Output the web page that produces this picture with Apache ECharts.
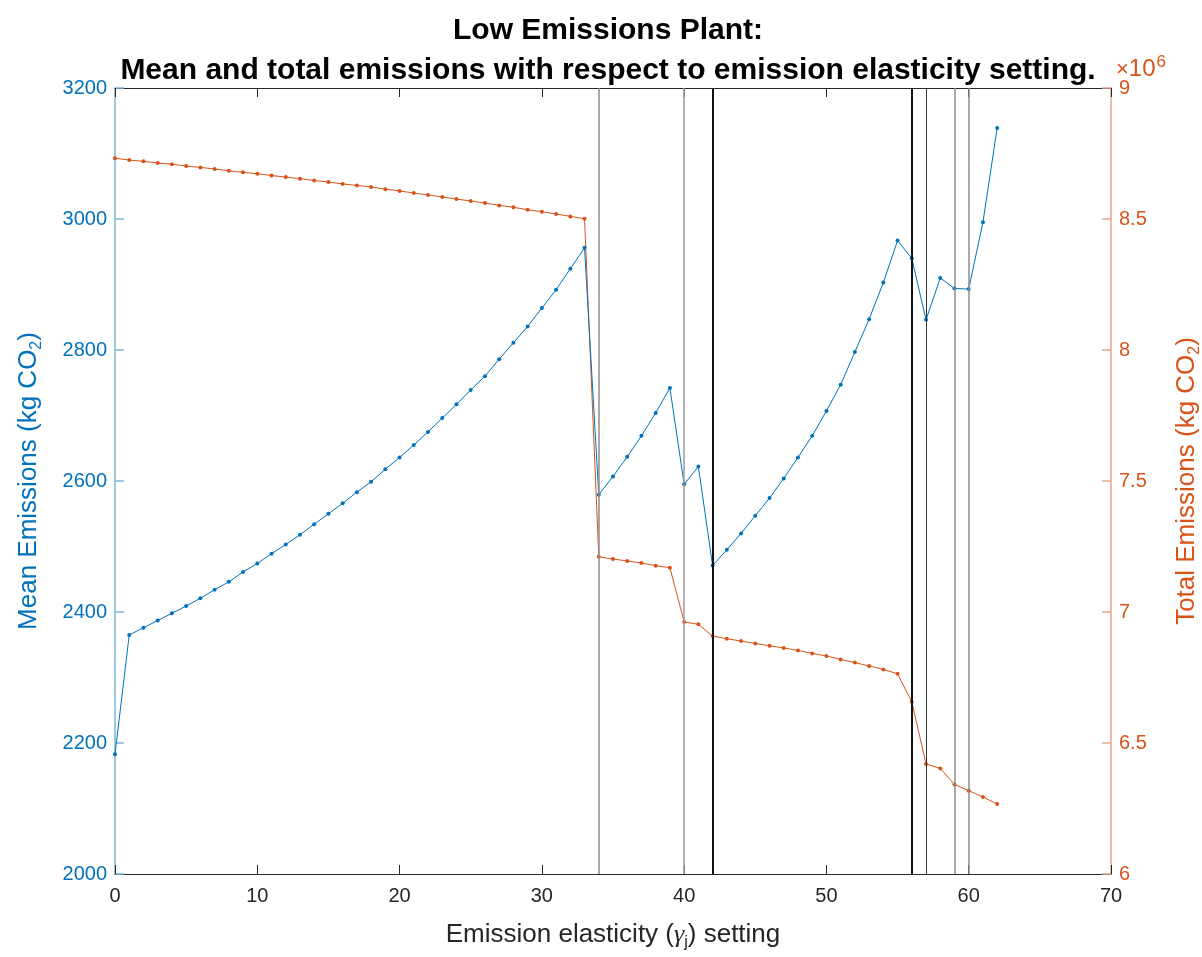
<!DOCTYPE html>
<html>
<head>
<meta charset="utf-8">
<script src="https://cdn.jsdelivr.net/npm/echarts@6/dist/echarts.min.js"></script>
<style>
  html, body { margin: 0; padding: 0; background: #fff; }
  #chart { width: 1202px; height: 957px; }
</style>
</head>
<body>
<div id="chart"></div>
<script>
// emission elasticity settings (x)
const gammaSettings = [
  0, 1, 2, 3, 4, 5, 6, 7, 8, 9, 10, 11, 12, 13, 14, 15, 16, 17, 18, 19, 20,
  21, 22, 23, 24, 25, 26, 27, 28, 29, 30, 31, 32, 33, 34, 35, 36, 37, 38, 39, 40,
  41, 42, 43, 44, 45, 46, 47, 48, 49, 50, 51, 52, 53, 54, 55, 56, 57, 58, 59, 60,
  61, 62
];

// mean emissions (kg CO2), left axis
const meanEmissions = [
  2183, 2365, 2376, 2387, 2398, 2409, 2421, 2434, 2446, 2461, 2474,
  2489, 2503, 2518, 2534, 2550, 2566, 2583, 2599, 2618, 2636,
  2655, 2675, 2696, 2717, 2739, 2760, 2786, 2811, 2836, 2864,
  2892, 2924, 2956, 2579, 2607, 2637, 2669, 2704, 2742, 2595,
  2622, 2471, 2495, 2520, 2547, 2574, 2604, 2636, 2669, 2707,
  2747, 2797, 2847, 2903, 2967, 2940, 2846, 2910, 2894, 2893,
  2995, 3139
];

// total emissions (x10^6 kg CO2), right axis
const totalEmissions = [
  8.732, 8.725, 8.720, 8.714, 8.709, 8.702, 8.697, 8.691, 8.684, 8.678, 8.673,
  8.666, 8.660, 8.654, 8.647, 8.641, 8.634, 8.628, 8.622, 8.614, 8.607,
  8.599, 8.592, 8.584, 8.576, 8.569, 8.561, 8.552, 8.545, 8.535, 8.528,
  8.519, 8.510, 8.501, 7.211, 7.202, 7.195, 7.187, 7.177, 7.169, 6.962,
  6.953, 6.908, 6.898, 6.889, 6.880, 6.871, 6.863, 6.853, 6.842, 6.832,
  6.819, 6.807, 6.794, 6.781, 6.764, 6.657, 6.420, 6.403, 6.342, 6.318,
  6.294, 6.267
];

// vertical marker lines at these settings
const switchPoints = [34, 40, 42, 56, 57, 59, 60];
const switchColors = ['#8c8c8c', '#9a9a9a', '#111111', '#111111', '#333333', '#8c8c8c', '#8c8c8c'];
const switchWidths = [1.5, 1.5, 2, 2, 1, 1.5, 1.5];

const BLUE = '#0072BD';
const ORANGE = '#D95319';
const FONT = 'Arial, "Liberation Sans", Helvetica, sans-serif';

const chart = echarts.init(document.getElementById('chart'));

const meanData = gammaSettings.map((g, i) => [g, meanEmissions[i]]);
const totalData = gammaSettings.map((g, i) => [g, totalEmissions[i]]);

const option = {
  animation: false,
  backgroundColor: '#fff',
  title: {
    text: 'Low Emissions Plant:\nMean and total emissions with respect to emission elasticity setting.',
    left: 603,
    textAlign: 'center',
    top: 6,
    textStyle: {
      fontFamily: FONT,
      fontWeight: 'bold',
      fontSize: 30,
      lineHeight: 40,
      color: '#000'
    }
  },
  grid: {
    left: 115,
    right: 91,
    top: 88,
    bottom: 83,
    show: false,
    outerBoundsMode: 'none',
    containLabel: false
  },
  xAxis: [
    {
      type: 'value',
      min: 0,
      max: 70,
      interval: 10,
      position: 'bottom',
      name: 'Emission elasticity ({g|γ}{sub|j}) setting',
      nameLocation: 'middle',
      nameGap: 45,
      nameTextStyle: {
        fontFamily: FONT,
        fontSize: 26,
        color: '#262626',
        rich: {
          g: { fontFamily: 'serif', fontStyle: 'italic', fontSize: 26, color: '#262626' },
          sub: { fontFamily: FONT, fontSize: 16, color: '#262626', padding: [16, 0, 0, 0] }
        }
      },
      axisLine: { show: true, onZero: false, lineStyle: { color: '#262626', width: 1 } },
      axisTick: { show: true, inside: true, length: 9, lineStyle: { color: '#262626' } },
      axisLabel: { fontFamily: FONT, fontSize: 20, color: '#262626', margin: 12 },
      splitLine: { show: false }
    },
    {
      type: 'value',
      min: 0,
      max: 70,
      interval: 10,
      position: 'top',
      axisLine: { show: true, onZero: false, lineStyle: { color: '#262626', width: 1 } },
      axisTick: { show: true, inside: true, length: 9, lineStyle: { color: '#262626' } },
      axisLabel: { show: false },
      splitLine: { show: false }
    }
  ],
  yAxis: [
    {
      type: 'value',
      min: 2000,
      max: 3200,
      interval: 200,
      position: 'left',
      name: 'Mean Emissions (kg CO{sub|2})',
      nameLocation: 'middle',
      nameGap: 70,
      nameRotate: 90,
      nameTextStyle: {
        fontFamily: FONT,
        fontSize: 26,
        color: BLUE,
        rich: {
          sub: { fontFamily: FONT, fontSize: 16, color: BLUE, padding: [16, 0, 0, 0] }
        }
      },
      axisLine: { show: true, onZero: false, lineStyle: { color: '#7fb8de', width: 1.5 } },
      axisTick: { show: true, inside: true, length: 9, lineStyle: { color: '#7fb8de', width: 1.5 } },
      axisLabel: {
        fontFamily: FONT, fontSize: 20, color: BLUE, margin: 8,
        formatter: v => String(v)
      },
      splitLine: { show: false }
    },
    {
      type: 'value',
      min: 6,
      max: 9,
      interval: 0.5,
      position: 'right',
      name: 'Total Emissions (kg CO{sub|2})',
      nameLocation: 'middle',
      nameGap: 60,
      nameRotate: 90,
      nameTextStyle: {
        fontFamily: FONT,
        fontSize: 26,
        color: ORANGE,
        rich: {
          sub: { fontFamily: FONT, fontSize: 16, color: ORANGE, padding: [16, 0, 0, 0] }
        }
      },
      axisLine: { show: true, onZero: false, lineStyle: { color: '#e8a68c', width: 1.5 } },
      axisTick: { show: true, inside: true, length: 9, lineStyle: { color: '#e8a68c', width: 1.5 } },
      axisLabel: {
        fontFamily: FONT, fontSize: 20, color: ORANGE, margin: 8,
        formatter: v => String(v)
      },
      splitLine: { show: false }
    }
  ],
  graphic: [
    {
      type: 'text',
      left: 1116,
      top: 54,
      style: {
        text: '{x|×}10{sup|6}',
        fontFamily: FONT,
        fontSize: 24,
        fill: ORANGE,
        rich: {
          x: { fontFamily: FONT, fontSize: 22, fill: ORANGE },
          sup: { fontFamily: FONT, fontSize: 17, fill: ORANGE, padding: [0, 0, 14, 1] }
        }
      }
    }
  ],
  series: [
    {
      name: 'Mean Emissions',
      type: 'line',
      xAxisIndex: 0,
      yAxisIndex: 0,
      data: meanData,
      symbol: 'circle',
      symbolSize: 4,
      itemStyle: { color: BLUE },
      lineStyle: { color: BLUE, width: 1 },
      z: 3,
      markLine: {
        silent: true,
        symbol: 'none',
        label: { show: false },
        data: switchPoints.map((x, i) => ({
          xAxis: x,
          lineStyle: { type: 'solid', color: switchColors[i], width: switchWidths[i] }
        }))
      }
    },
    {
      name: 'Total Emissions',
      type: 'line',
      xAxisIndex: 0,
      yAxisIndex: 1,
      data: totalData,
      symbol: 'circle',
      symbolSize: 4,
      itemStyle: { color: ORANGE },
      lineStyle: { color: ORANGE, width: 1 },
      z: 2
    }
  ]
};

chart.setOption(option);
</script>
</body>
</html>
